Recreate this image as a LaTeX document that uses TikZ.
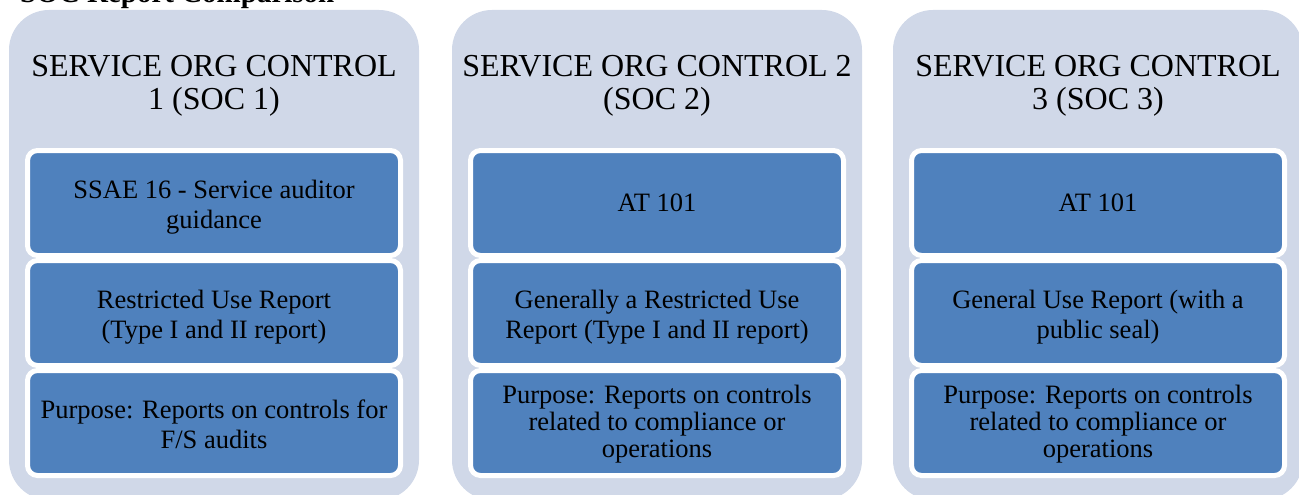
\documentclass[tikz,border=0pt]{standalone}
\usepackage{fontspec}
\setmainfont{Liberation Serif}
\definecolor{panelbg}{HTML}{D0D8E8}
\definecolor{cellblue}{HTML}{4F81BD}
\tikzset{
  panel/.style={fill=panelbg, rounded corners=40pt},
  heading/.style={align=center, inner sep=0pt, text=black,
    font=\fontsize{32}{33}\selectfont},
  cell/.style={fill=cellblue, draw=white, line width=5pt, rounded corners=10pt,
    minimum width=373pt, minimum height=105pt, inner sep=0pt, align=center,
    font=\fontsize{26.5}{30}\selectfont, text=black},
  tightcell/.style={cell, font=\fontsize{26.5}{27}\selectfont},
}
\begin{document}
\begin{tikzpicture}[x=1pt, y=-1pt]
\useasboundingbox (0,0) rectangle (1299,495);
\clip (0,0) rectangle (1299,495);

% page title, partly above the top edge
\node[anchor=base west, inner sep=0pt, font=\fontsize{29}{30}\selectfont\bfseries]
  (title) at (20,3) {SOC Report Comparison};

% three light panels
\fill[panel] (9,10) rectangle (419,500);
\fill[panel] (452,10) rectangle (862,500);
\fill[panel] (893,10) rectangle (1303,500);

% panel headings
\node[heading] (h1) at (214,85.5) {SERVICE ORG CONTROL\\1 (SOC 1)};
\node[heading] (h2) at (657,85.5) {SERVICE ORG CONTROL 2\\(SOC 2)};
\node[heading] (h3) at (1098,85.5) {SERVICE ORG CONTROL\\3 (SOC 3)};

% cell backgrounds (rows centred at 203, 313, 423)
\foreach \cx/\col in {214/a, 657/b, 1098/c}
  \foreach \cy/\row in {203/1, 313/2, 423/3}
    \node[cell] (\col\row) at (\cx,\cy) {};

% SOC 1 column
\node[cell, draw=none, fill=none] (a1t) at (214,207) {SSAE 16 - Service auditor\\guidance};
\node[cell, draw=none, fill=none] (a2t) at (214,317) {Restricted Use Report\\(Type I and II report)};
\node[cell, draw=none, fill=none] (a3t) at (214,424) {Purpose: Reports on controls for\\F/S audits};

% SOC 2 column
\node[cell, draw=none, fill=none] (b1t) at (657,203) {AT 101};
\node[cell, draw=none, fill=none] (b2t) at (657,317) {Generally a Restricted Use\\Report (Type I and II report)};
\node[tightcell, draw=none, fill=none] (b3t) at (657,424) {Purpose: Reports on controls\\related to compliance or\\operations};

% SOC 3 column
\node[cell, draw=none, fill=none] (c1t) at (1098,203) {AT 101};
\node[cell, draw=none, fill=none] (c2t) at (1098,317) {General Use Report (with a\\public seal)};
\node[tightcell, draw=none, fill=none] (c3t) at (1098,424) {Purpose: Reports on controls\\related to compliance or\\operations};
\end{tikzpicture}
\end{document}
